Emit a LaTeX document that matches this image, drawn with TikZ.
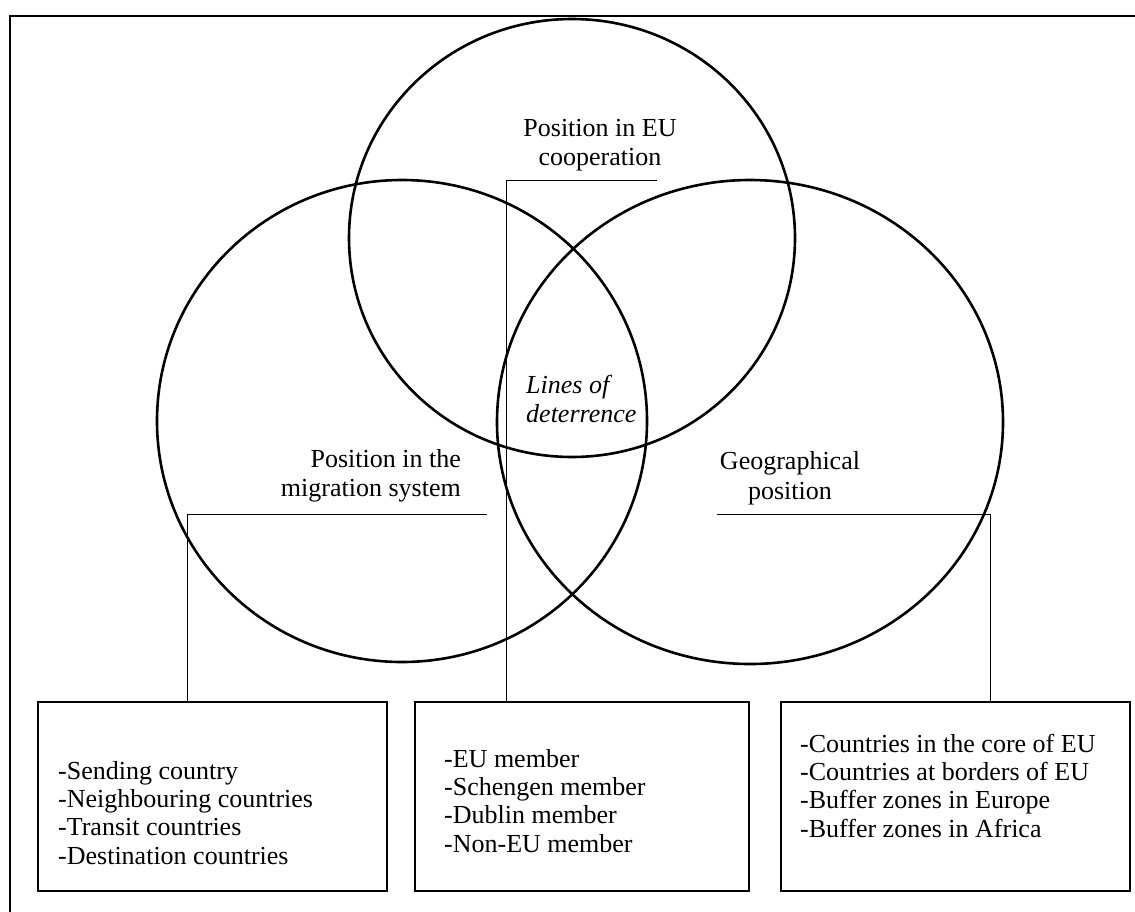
\documentclass[tikz,border=0pt]{standalone}
\usepackage{fontspec}
\setmainfont{Liberation Serif}
\begin{document}
\begin{tikzpicture}[x=1pt,y=-1pt,
  ring/.style={line width=2.6pt},
  box/.style={draw,line width=2pt,inner sep=0pt},
  link/.style={line width=0.7pt},
  lbl/.style={inner sep=0pt,align=center,font=\fontsize{26}{29.5}\selectfont},
  item/.style={anchor=base west,inner sep=0pt,font=\fontsize{26}{28.5}\selectfont}]
\path[use as bounding box] (0,0) rectangle (1135,911);
% frame, cut off at right and bottom
\draw[line width=2.5pt] (10,940) -- (10,16) -- (1160,16);
% the three circles
\draw[ring] (402,421) ellipse [x radius=245pt, y radius=241pt];
\draw[ring] (750,422) ellipse [x radius=253pt, y radius=242pt];
\draw[ring] (572,238) ellipse [x radius=223pt, y radius=219pt];
% circle labels
\node[lbl] (eu) at (600,145) {Position in EU\\cooperation};
\node[lbl,align=left,anchor=west,font=\fontsize{26}{29.5}\selectfont\itshape] (core) at (526,399) {Lines of\\deterrence};
\node[lbl,align=right,anchor=east] (mig) at (461,476) {Position in the\\migration system};
\node[lbl] (geo) at (790,478) {Geographical\\position};
% boxes
\node[box,minimum width=349pt,minimum height=189pt,anchor=north west] (migbox) at (37,701) {};
\node[box,minimum width=334pt,minimum height=189pt,anchor=north west] (eubox) at (414,701) {};
\node[box,minimum width=349pt,minimum height=189pt,anchor=north west] (geobox) at (780,701) {};
% box texts
\node[item] (m1) at (58,779) {-Sending country};
\node[item] (m2) at (58,807) {-Neighbouring countries};
\node[item] (m3) at (58,835) {-Transit countries};
\node[item] (m4) at (58,864) {-Destination countries};
\node[item] (e1) at (444,767) {-EU member};
\node[item] (e2) at (444,795) {-Schengen member};
\node[item] (e3) at (444,823) {-Dublin member};
\node[item] (e4) at (444,852) {-Non-EU member};
\node[item] (g1) at (800,752) {-Countries in the core of EU};
\node[item] (g2) at (800,780) {-Countries at borders of EU};
\node[item] (g3) at (800,808) {-Buffer zones in Europe};
\node[item] (g4) at (800,837) {-Buffer zones in Africa};
% connectors
\coordinate (euA) at (657,180);
\coordinate (euB) at (506,701);
\coordinate (migA) at (487,514);
\coordinate (migB) at (187,701);
\coordinate (geoA) at (717,514);
\coordinate (geoB) at (990,701);
\draw[link] (euA) -| (euB);
\draw[link] (migA) -| (migB);
\draw[link] (geoA) -| (geoB);
\end{tikzpicture}
\end{document}
